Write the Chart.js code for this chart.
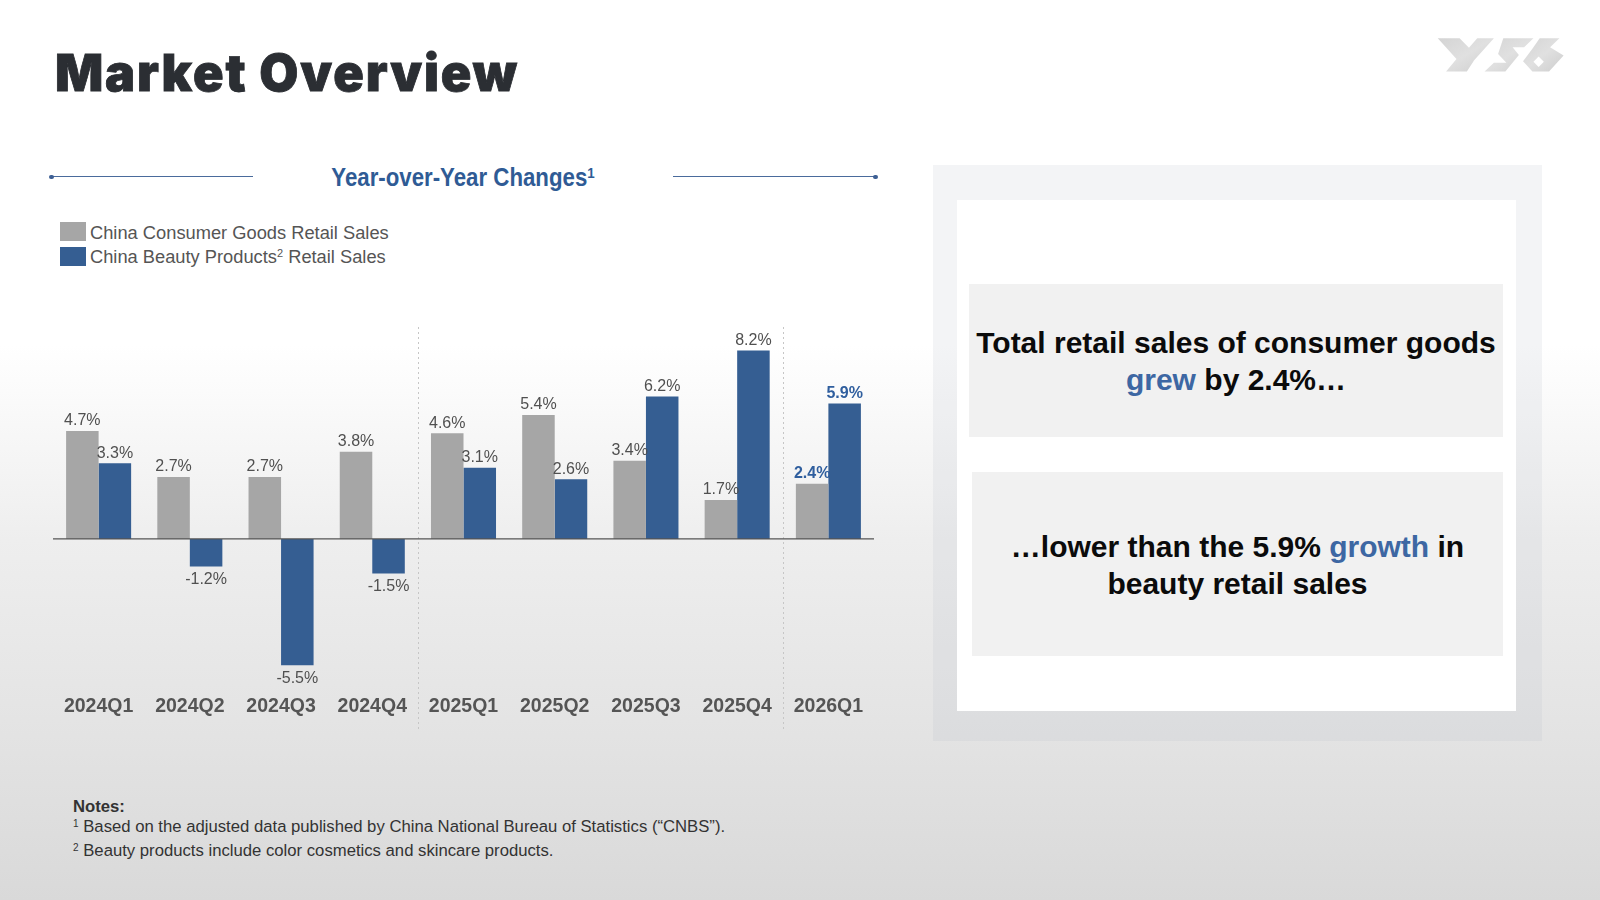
<!DOCTYPE html>
<html><head><meta charset="utf-8">
<script src="https://cdn.jsdelivr.net/npm/chart.js@4"></script>
<style>
html,body{margin:0;padding:0;}
body{width:1600px;height:900px;overflow:hidden;position:relative;font-family:"Liberation Sans",Arial,sans-serif;
background:linear-gradient(to bottom,#ffffff 0px,#ffffff 345px,#eeeeee 540px,#e4e4e4 720px,#d9d9d9 900px);}
.abs{position:absolute;white-space:nowrap;line-height:1;}
.box{position:absolute;display:flex;align-items:center;justify-content:center;text-align:center;background:#f1f1f1;font-weight:bold;font-size:30px;line-height:36.6px;color:#0b0b0b;white-space:nowrap;box-sizing:border-box;}
.blue{color:#3d67a3;}
sup{font-size:0.6em;vertical-align:0;position:relative;top:-0.55em;}
</style></head>
<body>
<div id="title" class="abs" style="left:55px;top:48px;font-family:Inter,'Liberation Sans',sans-serif;font-weight:900;font-size:50.5px;color:#2b2e33;-webkit-text-stroke:0.8px #2b2e33;">Market Overview</div>

<svg class="abs" style="left:1418px;top:30px;" width="156" height="52" viewBox="0 0 150 50">
  <defs><linearGradient id="lg" x1="0" y1="0" x2="1" y2="1"><stop offset="0" stop-color="#d4d4d4"/><stop offset="0.5" stop-color="#e0e0e0"/><stop offset="1" stop-color="#cdcdcd"/></linearGradient></defs>
  <polygon fill="url(#lg)" points="19,8 40,8 49,17 57,8 73,8 54,29 47,40 27,40 37,28"/>
  <polygon fill="url(#lg)" points="82,8 111,8 102,16.5 91,16.5 97,24 84,40 64,40 73,31.5 85,31.5 77,23"/>
  <polygon fill="url(#lg)" points="117,8 136,8 127,16.5 140,24.5 126,40 110,40 101,30 110,18"/>
  <polygon fill="#ffffff" points="116,25.5 121,30.5 116,35.5 111,30.5"/>
</svg>

<div class="abs" style="left:51px;top:176px;width:202px;height:1.2px;background:#4a6b9c;"></div>
<div class="abs" style="left:49px;top:174.5px;width:4.5px;height:4.5px;border-radius:50%;background:#3d5f94;"></div>
<div class="abs" style="left:673px;top:176px;width:202px;height:1.2px;background:#4a6b9c;"></div>
<div class="abs" style="left:873px;top:174.5px;width:4.5px;height:4.5px;border-radius:50%;background:#3d5f94;"></div>
<div class="abs" style="left:263px;top:164.8px;width:400px;text-align:center;font-weight:bold;font-size:25px;color:#2f5b95;transform:scaleX(0.89);transform-origin:center;">Year-over-Year Changes<sup>1</sup></div>

<div class="abs" style="left:60px;top:222px;width:26px;height:18.5px;background:#a6a6a6;"></div>
<div class="abs" style="left:60px;top:247px;width:26px;height:19px;background:#355e92;"></div>
<div id="leg1" class="abs" style="left:90px;top:223.8px;font-size:18.3px;color:#555;"></div>
<div id="leg2" class="abs" style="left:90px;top:248.2px;font-size:18.3px;color:#555;"></div>

<canvas id="c" width="900" height="419" style="position:absolute;left:0;top:316px;"></canvas>

<div class="abs" style="left:933px;top:165px;width:609px;height:576px;background:rgba(178,184,196,0.16);"></div>
<div class="abs" style="left:957px;top:200px;width:559px;height:511px;background:#ffffff;"></div>
<div class="box" style="left:969px;top:284px;width:534px;height:153px;padding-top:3px;"><div>Total retail sales of consumer goods<br><span class="blue">grew</span> by 2.4%…</div></div>
<div class="box" style="left:972px;top:472px;width:531px;height:184px;padding-top:4px;"><div>…lower than the 5.9% <span class="blue">growth</span> in<br>beauty retail sales</div></div>

<div class="abs" style="left:73px;top:799.4px;font-size:16.7px;font-weight:bold;color:#333;">Notes:</div>
<div class="abs" style="left:73px;top:819.4px;font-size:16.7px;color:#333;"><sup>1</sup> Based on the adjusted data published by China National Bureau of Statistics (“CNBS”).</div>
<div class="abs" style="left:73px;top:843.4px;font-size:16.7px;color:#333;"><sup>2</sup> Beauty products include color cosmetics and skincare products.</div>

<script>
// ---- data ----
const categories = ['2024Q1','2024Q2','2024Q3','2024Q4','2025Q1','2025Q2','2025Q3','2025Q4','2026Q1'];
const consumerGoods = [4.7, 2.7, 2.7, 3.8, 4.6, 5.4, 3.4, 1.7, 2.4];
const beautyProducts = [3.3, -1.2, -5.5, -1.5, 3.1, 2.6, 6.2, 8.2, 5.9];
const seriesNames = ['China Consumer Goods Retail Sales', 'China Beauty Products² Retail Sales'];
const yearBreaks = [3.5, 7.5];

document.getElementById('leg1').textContent = seriesNames[0];
document.getElementById('leg2').innerHTML = seriesNames[1].replace('²', '<sup>2</sup>');

// fit the title width
(function(){
  const t = document.getElementById('title');
  const w = t.getBoundingClientRect().width;
  const n = t.textContent.length;
  t.style.letterSpacing = ((462 - w) / (n - 1)) + 'px';
})();

const FONT = '"Liberation Sans", Arial, sans-serif';
const guides = {
  id: 'guides',
  beforeDatasetsDraw(chart) {
    const {ctx, chartArea, scales: {x}} = chart;
    ctx.save();
    ctx.strokeStyle = '#c6c6c6'; ctx.lineWidth = 1; ctx.setLineDash([2, 3]);
    yearBreaks.forEach(b => {
      const px = Math.round(x.getPixelForValue(b)) + 0.5;
      ctx.beginPath(); ctx.moveTo(px, chartArea.top + 1); ctx.lineTo(px, chartArea.bottom + 40); ctx.stroke();
    });
    ctx.restore();
  },
  afterDatasetsDraw(chart) {
    const {ctx, chartArea, scales: {y}} = chart;
    ctx.save();
    const y0 = y.getPixelForValue(0);
    ctx.strokeStyle = '#555'; ctx.lineWidth = 1.2;
    ctx.beginPath(); ctx.moveTo(chartArea.left, y0); ctx.lineTo(chartArea.right, y0); ctx.stroke();
    chart.data.datasets.forEach((ds, di) => {
      chart.getDatasetMeta(di).data.forEach((bar, i) => {
        const v = ds.data[i];
        const last = i === categories.length - 1;
        ctx.font = (last ? 'bold ' : '') + '16px ' + FONT;
        ctx.fillStyle = last ? '#2f5e9e' : '#505050';
        ctx.textAlign = 'center'; ctx.textBaseline = 'alphabetic';
        const yy = v >= 0 ? bar.y - 5.5 : bar.y + 18;
        ctx.fillText(v.toFixed(1) + '%', bar.x, yy);
      });
    });
    ctx.restore();
  }
};

new Chart(document.getElementById('c'), {
  type: 'bar',
  data: {
    labels: categories,
    datasets: [
      {label: seriesNames[0], data: consumerGoods, backgroundColor: '#a6a6a6'},
      {label: seriesNames[1], data: beautyProducts, backgroundColor: '#355e92'}
    ]
  },
  options: {
    responsive: false, animation: false,
    datasets: {bar: {categoryPercentage: 0.713, barPercentage: 1.0}},
    layout: {padding: {left: 53, right: 26, top: 10, bottom: 12}},
    plugins: {legend: {display: false}, tooltip: {enabled: false}},
    scales: {
      x: {
        grid: {display: false, drawTicks: false},
        border: {display: false},
        ticks: {color: '#555', font: {family: FONT, size: 19.5, weight: 'bold'}, padding: 5, maxRotation: 0, autoSkip: false}
      },
      y: {display: false, min: -6.56, max: 9.27}
    }
  },
  plugins: [guides]
});
</script>
</body></html>
